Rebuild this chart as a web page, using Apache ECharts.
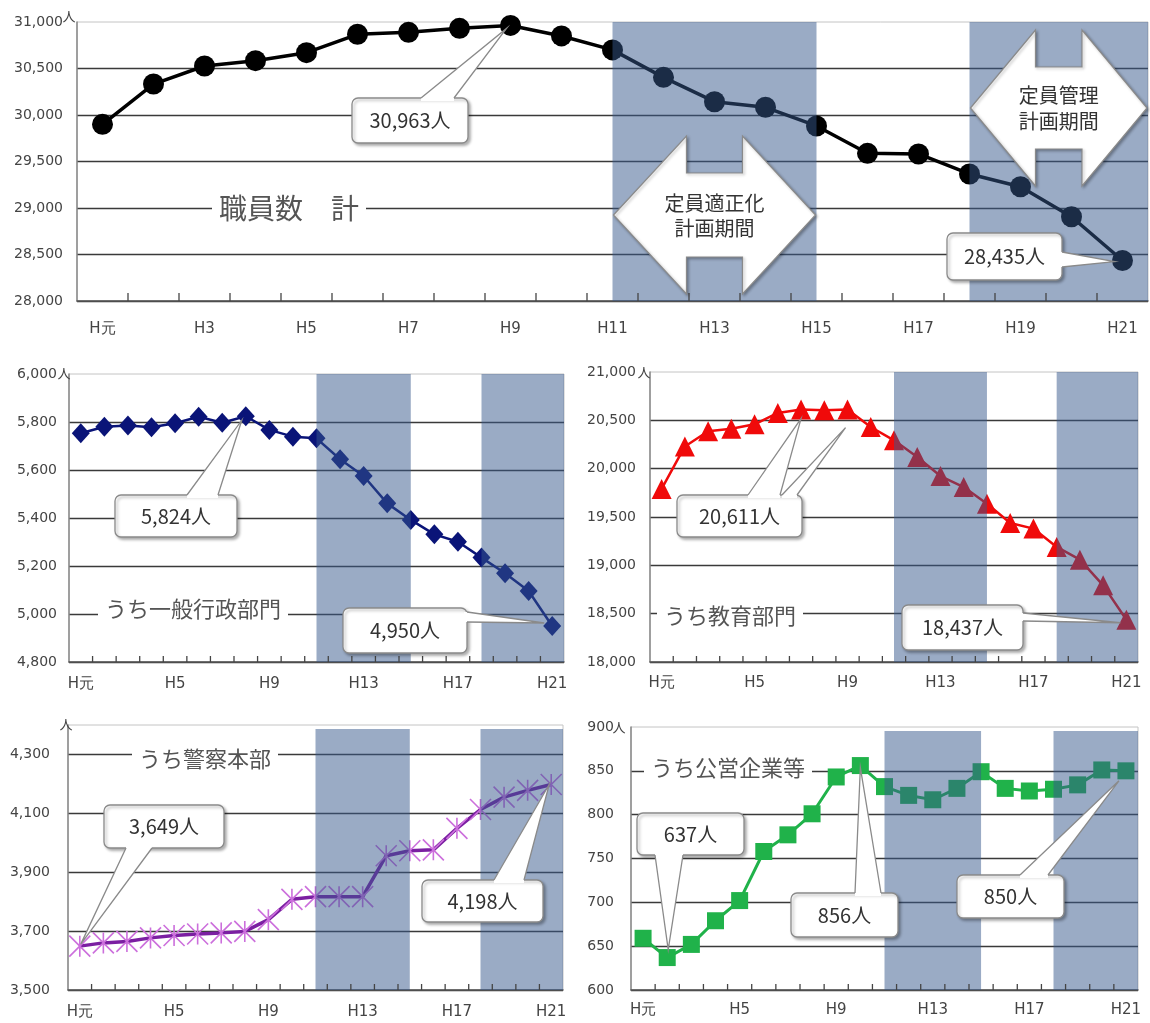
<!DOCTYPE html>
<html>
<head>
<meta charset="utf-8">
<script src="https://cdn.jsdelivr.net/npm/echarts@6/dist/echarts.min.js"></script>
<style>
html,body{margin:0;padding:0;background:#fff;}
#c{width:1150px;height:1023px;}
</style>
</head>
<body>
<div id="c"></div>
<script>
// ---------------- data ----------------
const categories = ['H元','H2','H3','H4','H5','H6','H7','H8','H9','H10','H11','H12','H13','H14','H15','H16','H17','H18','H19','H20','H21'];
const totalStaff   = [29900,30333,30527,30584,30670,30868,30889,30932,30963,30850,30700,30405,30143,30083,29882,29588,29581,29366,29229,28906,28435];
const generalAdmin = [5753,5780,5785,5778,5795,5822,5797,5824,5767,5739,5732,5645,5575,5461,5392,5332,5301,5235,5170,5096,4950];
const education    = [19790,20230,20387,20414,20459,20576,20611,20605,20611,20431,20293,20121,19924,19810,19638,19438,19380,19190,19059,18793,18437];
const police       = [3649,3660,3665,3677,3685,3690,3694,3699,3739,3808,3817,3817,3817,3956,3973,3976,4049,4113,4155,4178,4198];
const enterprise   = [659,637,652,679,702,758,777,801,843,856,832,822,817,830,849,830,827,829,834,851,850];
const panelTitles  = ['職員数　計','うち一般行政部門','うち教育部門','うち警察本部','うち公営企業等'];
const planNames    = [['定員適正化','計画期間'],['定員管理','計画期間']];
const unit = '人';
// plan periods (category index ranges); null = to the end of the axis
const planRanges = [[10,14],[17,null]];

// ---------------- layout ----------------
const W = 1150, H = 1023;
const F_NUM = '"DejaVu Sans", sans-serif';
const F_JP = '"Noto Sans CJK JP", "Noto Sans", sans-serif';
const grids = [
  {left:77,  right:2,   top:22,  bottom:722},
  {left:69,  right:586, top:374, bottom:361},
  {left:650, right:12,  top:372, bottom:361},
  {left:68,  right:587, top:725, bottom:33},
  {left:631, right:12,  top:727, bottom:33}
];
const tickLen = [8,6,6,6,6];
const fmt = v => String(v).replace(/\B(?=(\d{3})+(?!\d))/g, ',');

function xAx(gi, labelInterval, margin){
  return {
    type:'category', gridIndex:gi, data:categories, boundaryGap:true,
    axisLine:{show:true, onZero:false, lineStyle:{color:'#555', width:1.5}},
    axisTick:{show:false},
    axisLabel:{interval:labelInterval, margin:margin, fontFamily:F_NUM, fontSize:15, color:'#444'},
    splitLine:{show:false}
  };
}
function yAx(gi, min, max, interval, margin, hideMax){
  return {
    type:'value', gridIndex:gi, min:min, max:max, interval:interval,
    axisLine:{show:true, lineStyle:{color:'#888', width:1.5}},
    axisTick:{show:false},
    axisLabel:{margin:margin, fontFamily:F_NUM, fontSize:14, color:'#444',
      formatter: v => (hideMax && v === max) ? '' : fmt(v)},
    splitLine:{show:true, showMaxLine:false, lineStyle:{color:'#3a3a3a', width:1.4}}
  };
}

const asterisk = 'path://M10,0L10,20M0,0L20,20M0,20L20,0';

const option = {
  backgroundColor:'#fff',
  animation:false,
  grid: grids.map(g => Object.assign({show:true, borderColor:'#c4c4c4', borderWidth:1, backgroundColor:'transparent', outerBoundsMode:'none'}, g)),
  xAxis: [
    xAx(0, 1, 21),
    xAx(1, 3, 15),
    xAx(2, 3, 14),
    xAx(3, 3, 15),
    xAx(4, 3, 13)
  ],
  yAxis: [
    yAx(0, 28000, 31000, 500, 14, false),
    yAx(1, 4800, 6000, 200, 12, false),
    yAx(2, 18000, 21000, 500, 14, false),
    yAx(3, 3500, 4400, 200, 18, true),
    yAx(4, 600, 900, 50, 17, false)
  ],
  series: [
    {type:'line', xAxisIndex:0, yAxisIndex:0, data:totalStaff, symbol:'circle', symbolSize:21, showAllSymbol:true,
     itemStyle:{color:'#000'}, lineStyle:{color:'#000', width:3.5}, silent:true, z:2},
    {type:'line', xAxisIndex:1, yAxisIndex:1, data:generalAdmin, symbol:'diamond', symbolSize:[18,20], showAllSymbol:true,
     itemStyle:{color:'#0a1478'}, lineStyle:{color:'#0a1478', width:2.5}, silent:true, z:2},
    {type:'line', xAxisIndex:2, yAxisIndex:2, data:education, symbol:'triangle', symbolSize:[20,20], showAllSymbol:true,
     itemStyle:{color:'#f00a0a'}, lineStyle:{color:'#f00a0a', width:2.5}, silent:true, z:2},
    {type:'line', xAxisIndex:3, yAxisIndex:3, data:police, symbol:asterisk, symbolSize:21, showAllSymbol:true,
     itemStyle:{color:'rgba(0,0,0,0)', borderColor:'#cc6fdc', borderWidth:1.6}, lineStyle:{color:'#7b1fa2', width:3.5}, silent:true, z:2},
    {type:'line', xAxisIndex:4, yAxisIndex:4, data:enterprise, symbol:'rect', symbolSize:17, showAllSymbol:true,
     itemStyle:{color:'#20b24a'}, lineStyle:{color:'#20b24a', width:3}, silent:true, z:2}
  ]
};

const chart = echarts.init(document.getElementById('c'), null, {renderer:'canvas', width:W, height:H});
chart.setOption(option);

// ---------------- annotations ----------------
const P = (gi, idx, val) => chart.convertToPixel({gridIndex:gi}, [idx, val]);
const seriesData = [totalStaff, generalAdmin, education, police, enterprise];
const els = [];

// category boundary ticks (inside, pointing up from the x axis)
grids.forEach((g, gi) => {
  const yb = H - g.bottom;
  for (let i = 1; i < categories.length; i++) {
    const x = (P(gi, i - 1, 0)[0] + P(gi, i, 0)[0]) / 2;
    els.push({type:'line', z:6, silent:true, shape:{x1:x, y1:yb, x2:x, y2:yb - tickLen[gi]},
      style:{stroke:'#444', lineWidth:1.3}});
  }
});

// unit mark "人" at the top-left corner of each value axis
const unitPos = [[-8,-6],[-5,-1],[-6,0],[-2,-1],[-12,0]];
grids.forEach((g, gi) => {
  els.push({type:'text', z:8, silent:true,
    style:{text:unit, x:g.left + unitPos[gi][0], y:g.top + unitPos[gi][1], align:'center', verticalAlign:'middle',
      fontFamily:F_JP, fontSize:13, fill:'#444'}});
});

// plan-period bands (semi-transparent overlay above the lines)
const bandTopOffset = [0,0,0,4,4];
const bandPx = [];
grids.forEach((g, gi) => {
  const top = g.top + bandTopOffset[gi];
  const bottom = H - g.bottom;
  const rightEdge = W - g.right;
  bandPx[gi] = [];
  planRanges.forEach(r => {
    const x1 = P(gi, r[0], 0)[0];
    const x2 = r[1] === null ? rightEdge : P(gi, r[1], 0)[0];
    bandPx[gi].push([x1, x2]);
    els.push({type:'rect', z:5, silent:true,
      shape:{x:x1, y:top, width:x2 - x1, height:bottom - top},
      style:{fill:'rgba(53,87,139,0.5)'}});
  });
});

// panel titles on a grid line (white background hides the line)
const titleCfg = [
  {gi:0, x:289, val:29000, dy:0, size:28},
  {gi:1, x:193, val:5000, dy:-5, size:22},
  {gi:2, x:730, val:18500, dy:2, size:22},
  {gi:3, x:205, val:4300, dy:4, size:22},
  {gi:4, x:728, val:850, dy:-3, size:22}
];
titleCfg.forEach((t, i) => {
  const y = P(t.gi, 0, t.val)[1] + t.dy;
  els.push({type:'text', z:8, silent:true,
    style:{text:panelTitles[i], x:t.x, y:y, align:'center', verticalAlign:'middle',
      fontFamily:F_JP, fontSize:t.size, fill:'#555', backgroundColor:'#fff', padding:[0,7]}});
});

// double arrows for plan periods (top panel)
function dblArrow(L, R, C, Hh, Sh, hl){
  return [[L,C],[L+hl,C-Hh],[L+hl,C-Sh],[R-hl,C-Sh],[R-hl,C-Hh],[R,C],[R-hl,C+Hh],[R-hl,C+Sh],[L+hl,C+Sh],[L+hl,C+Hh]];
}
const arrowCfg = [
  {C:215, Hh:79, Sh:42, hl:73, ty:[203,228]},
  {C:108, Hh:78, Sh:41, hl:65, ty:[95,121]}
];
arrowCfg.forEach((a, k) => {
  const [x1, x2] = bandPx[0][k];
  const L = x1 + 1, R = x2 - 1;
  els.push({type:'polygon', z:10, silent:true, shape:{points:dblArrow(L, R, a.C, a.Hh, a.Sh, a.hl)},
    style:{fill:'#fff', stroke:'#8a8a8a', lineWidth:1.2, shadowBlur:3, shadowOffsetX:1.5, shadowOffsetY:1.5, shadowColor:'rgba(0,0,0,0.3)'}});
  planNames[k].forEach((s, j) => {
    els.push({type:'text', z:11, silent:true,
      style:{text:s, x:(L+R)/2, y:a.ty[j], align:'center', verticalAlign:'middle', fontFamily:F_JP, fontSize:20, fill:'#333'}});
  });
});

// callouts
function callout(box, text, wedges){
  els.push({type:'rect', z:10, silent:true, shape:{x:box.x, y:box.y, width:box.w, height:box.h, r:6},
    style:{fill:'#fff', stroke:'#8a8a8a', lineWidth:1.3, shadowBlur:3, shadowOffsetX:2, shadowOffsetY:2, shadowColor:'rgba(0,0,0,0.3)'}});
  wedges.forEach(w => {
    let b1, b2, i1, i2;
    if (w.side === 'top') { b1=[w.a, box.y]; b2=[w.b, box.y]; i1=[w.a, box.y+3]; i2=[w.b, box.y+3]; }
    else if (w.side === 'bottom') { const y=box.y+box.h; b1=[w.a, y]; b2=[w.b, y]; i1=[w.a, y-3]; i2=[w.b, y-3]; }
    else { const x=box.x+box.w; b1=[x, w.a]; b2=[x, w.b]; i1=[x-3, w.a]; i2=[x-3, w.b]; }
    const p = P(w.gi, w.idx, seriesData[w.gi][w.idx]);
    const tip = [p[0] + w.off[0], p[1] + w.off[1]];
    els.push({type:'polygon', z:11, silent:true, shape:{points:[i1, b1, tip, b2, i2]}, style:{fill:'#fff', stroke:null}});
    els.push({type:'polyline', z:12, silent:true, shape:{points:[b1, tip, b2]}, style:{fill:null, stroke:'#8a8a8a', lineWidth:1.3}});
  });
  els.push({type:'text', z:13, silent:true,
    style:{text:text, x:box.x + box.w/2, y:box.y + box.h/2, align:'center', verticalAlign:'middle', fontFamily:F_JP, fontSize:20, fill:'#333'}});
}
const lab = (gi, idx) => fmt(seriesData[gi][idx]) + unit;

callout({x:352, y:98, w:116, h:45}, lab(0,8), [{side:'top', a:421, b:454, gi:0, idx:8, off:[-4,3]}]);
callout({x:947, y:233, w:115, h:47}, lab(0,20), [{side:'right', a:252, b:267, gi:0, idx:20, off:[-8,1]}]);
callout({x:115, y:495, w:122, h:42}, lab(1,7), [{side:'top', a:187, b:218, gi:1, idx:7, off:[-4,4]}]);
callout({x:343, y:608, w:124, h:45}, lab(1,20), [{side:'right', a:612, b:622, gi:1, idx:20, off:[-8,-3]}]);
callout({x:677, y:495, w:125, h:42}, lab(2,6), [
  {side:'top', a:748, b:780, gi:2, idx:6, off:[0,9]},
  {side:'top', a:782, b:797, gi:2, idx:8, off:[-2,18]}
]);
callout({x:902, y:605, w:121, h:45}, lab(2,20), [{side:'right', a:613, b:621, gi:2, idx:20, off:[-6,3]}]);
callout({x:104, y:805, w:120, h:43}, lab(3,0), [{side:'bottom', a:126, b:152, gi:3, idx:0, off:[1,-2]}]);
callout({x:422, y:880, w:121, h:42}, lab(3,20), [{side:'top', a:494, b:524, gi:3, idx:20, off:[-2,0]}]);
callout({x:637, y:813, w:107, h:42}, lab(4,1), [{side:'bottom', a:655, b:683, gi:4, idx:1, off:[1,-8]}]);
callout({x:791, y:893, w:107, h:44}, lab(4,9), [{side:'top', a:855, b:881, gi:4, idx:9, off:[0,2]}]);
callout({x:957, y:875, w:107, h:43}, lab(4,20), [{side:'top', a:1020, b:1048, gi:4, idx:20, off:[-7,10]}]);

chart.setOption({graphic:{elements:els}});
</script>
</body>
</html>
